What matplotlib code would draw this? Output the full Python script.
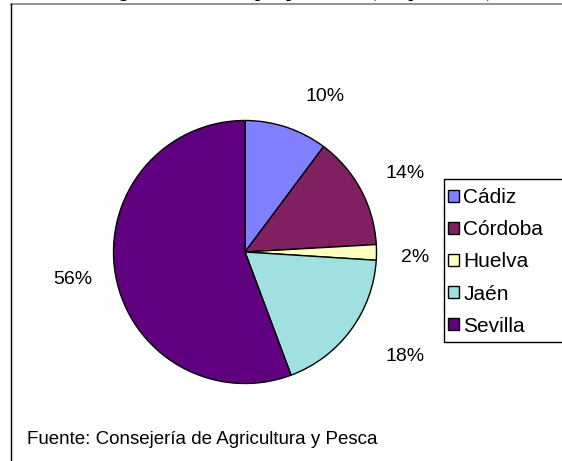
import matplotlib
matplotlib.use("Agg")
import matplotlib.pyplot as plt
from matplotlib.lines import Line2D
from matplotlib.patches import Rectangle

# datos (superficie por provincias, %)
provincias = ["Cádiz", "Córdoba", "Huelva", "Jaén", "Sevilla"]
porcentajes = [10.2, 13.9, 1.9, 18.3, 55.7]
colores = ["#8080FF", "#802060", "#FFFFC0", "#A0E0E0", "#600080"]

titulo = "Origen de la cosecha por provincias (campaña 2004)"
fuente = "Fuente: Consejería de Agricultura y Pesca"

W, H = 562, 461
fig = plt.figure(figsize=(W/100, H/100), dpi=100)
plt.rcParams['font.family'] = ['Liberation Sans', 'DejaVu Sans']

# pie centred at ~(245, 252) px, radius ~131 px
cx, cy, r = 245, 252, 131.5
ax = fig.add_axes([(cx-r)/W, 1-(cy+r)/H, 2*r/W, 2*r/H])
wedges, texts, autotexts = ax.pie(
	porcentajes, colors=colores, startangle=90, counterclock=False,
	autopct='%.0f%%', pctdistance=1.33,
	wedgeprops=dict(edgecolor='black', linewidth=1),
	textprops=dict(fontsize=14, color='black'))
# excel's "best fit" puts the labels slightly off the mid-angle
nudges = [(0.19, -0.08), (0.05, -0.03), (-0.04, -0.04), (0.15, 0.0), (0.0, 0.03)]
for t, (dx, dy) in zip(autotexts, nudges):
	x, y = t.get_position()
	t.set_position((x + dx, y + dy))
ax.set_xlim(-1, 1)
ax.set_ylim(-1, 1)
ax.set_aspect('auto')
ax.axis('off')

# legend (box runs off the right edge like the original)
fig.add_artist(Rectangle((444/W, 1-342/H), 130/W, 163/H, transform=fig.transFigure,
	facecolor='none', edgecolor='black', linewidth=1))
fig.legend(wedges, provincias, loc='upper left', bbox_to_anchor=(444/W, 1-184/H),
	frameon=False, fontsize=15, handlelength=0.5, handleheight=0.5,
	handletextpad=0.22, labelspacing=0.63, borderaxespad=0, borderpad=0.2)

# chart area border (top + left only visible)
fig.add_artist(Line2D([11/W, 1], [1-4.5/H, 1-4.5/H], transform=fig.transFigure,
	color='#808080', linewidth=1.2))
fig.add_artist(Line2D([11/W, 11/W], [1-4.5/H, 0], transform=fig.transFigure,
	color='black', linewidth=1))

# title mostly cut off above the image
fig.text(292/W, 1 + 3.5/H, titulo, ha='center', va='baseline', fontsize=13,
	fontweight='bold', family=['Liberation Serif', 'DejaVu Serif'])

fig.text(27/W, 1-439/H, fuente, ha='left', va='center', fontsize=13.5)

fig.savefig("out.png", dpi=100)
